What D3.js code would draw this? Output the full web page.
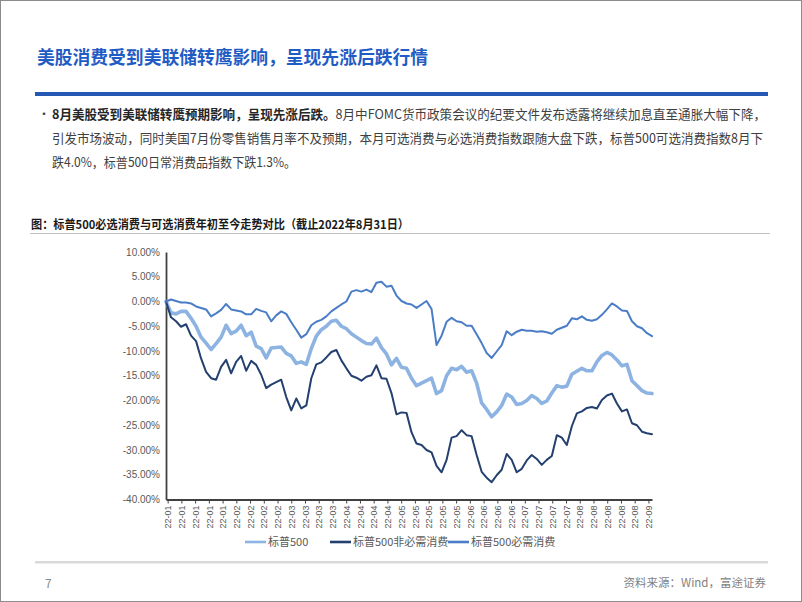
<!DOCTYPE html>
<html><head><meta charset="utf-8">
<script src="https://cdn.jsdelivr.net/npm/d3@7"></script>
<style>
html,body{margin:0;padding:0;background:#fff;}
svg{display:block;}
</style></head>
<body>
<div id="chart"></div>
<script>
// ---------------- data ----------------
const tickLabels = ["22-01","22-01","22-01","22-01","22-01","22-02","22-02","22-02","22-02","22-03","22-03","22-03","22-03","22-04","22-04","22-04","22-04","22-05","22-05","22-05","22-05","22-05","22-06","22-06","22-06","22-06","22-07","22-07","22-07","22-07","22-08","22-08","22-08","22-08","22-08","22-09"];
const yTicks = [10,5,0,-5,-10,-15,-20,-25,-30,-35,-40];
const seriesNames = ["标普500","标普500非必需消费","标普500必需消费"];

const sp500 = [0,-2.3,-2.5,-2.0,-2.0,-3.4,-5.0,-7.2,-8.4,-9.7,-8.5,-7.2,-4.8,-6.5,-6.0,-4.8,-6.9,-6.2,-9.0,-9.5,
 -11.4,-9.4,-9.3,-9.2,-10.5,-11.0,-12.5,-12.2,-12.7,-9.5,-7.0,-5.7,-5.0,-4.0,-3.8,-5.0,-5.5,-6.5,-7.2,-7.9,
 -8.5,-8.6,-7.4,-9.3,-10.6,-12.8,-11.5,-13.3,-13.5,-15.5,-17.0,-16.5,-16.0,-15.5,-18.6,-18.0,-15.0,-13.5,-13.8,-13.1,
 -14.3,-14.0,-16.5,-20.5,-21.8,-23.3,-22.3,-21.0,-18.7,-19.3,-20.8,-20.6,-20.0,-19.0,-19.6,-20.6,-20.1,-18.5,-17.0,-17.3,
 -17.1,-14.7,-14.1,-13.5,-14.0,-14.0,-12.2,-10.9,-10.3,-10.8,-11.8,-13.0,-12.7,-16.0,-17.0,-18.0,-18.5,-18.6];

const discretionary = [0,-3.2,-4.0,-5.1,-4.6,-6.9,-8.0,-11.5,-14.2,-15.5,-15.8,-13.2,-11.8,-14.5,-12.2,-11.0,-14.0,-12.0,-12.8,-14.8,
 -17.5,-16.8,-16.3,-15.8,-19.3,-22.0,-19.6,-21.6,-21.0,-15.5,-12.7,-12.3,-11.3,-10.2,-9.8,-11.9,-13.5,-15.0,-15.4,-16.0,
 -15.2,-14.9,-12.9,-15.5,-15.6,-18.5,-22.8,-22.4,-22.5,-26.4,-28.7,-29.0,-30.0,-30.5,-33.2,-34.5,-32.0,-27.5,-27.2,-26.0,
 -27.0,-27.2,-31.0,-34.4,-35.6,-36.5,-35.1,-34.0,-30.8,-32.0,-34.5,-33.8,-32.1,-31.0,-31.8,-33.0,-32.0,-31.2,-27.0,-27.5,
 -29.0,-25.2,-22.6,-22.2,-21.5,-21.3,-21.6,-19.9,-19.0,-18.6,-20.6,-22.2,-21.8,-24.6,-25.0,-26.3,-26.6,-26.8];

const staples = [0,0.4,0.1,-0.2,-0.2,-0.4,-1.0,-1.3,-1.6,-3.0,-2.4,-1.7,-0.5,-1.6,-1.8,-2.0,-2.6,-2.6,-1.5,-1.9,
 -2.2,-4.0,-2.8,-2.0,-2.5,-4.2,-5.7,-7.3,-6.6,-4.8,-4.1,-3.7,-3.0,-2.0,-1.3,-0.6,0.0,2.0,2.3,2.0,
 2.4,1.9,3.8,4.0,3.0,3.2,1.2,0.1,-0.4,-0.6,-1.3,-0.6,0.1,-1.5,-8.8,-6.9,-4.1,-3.3,-4.0,-4.2,
 -4.9,-4.9,-6.6,-8.4,-10.4,-11.4,-10.1,-8.8,-6.0,-6.8,-6.1,-5.7,-5.9,-5.9,-6.1,-6.0,-6.2,-6.5,-5.7,-5.3,
 -4.9,-3.4,-3.6,-3.0,-3.7,-3.9,-3.6,-2.7,-1.6,-0.4,-1.0,-1.8,-1.9,-4.0,-5.0,-5.4,-6.4,-7.0];

// ---------------- drawing ----------------
const W = 802, H = 602;
const svg = d3.select("#chart").append("svg").attr("width", W).attr("height", H);
const cjk = "'Noto Sans CJK SC','Noto Sans',sans-serif";
const latin = "'Liberation Sans',Arial,sans-serif";

// page frame
svg.append("rect").attr("x",0.5).attr("y",0.5).attr("width",W-1).attr("height",H-1)
  .attr("fill","#fff").attr("stroke","#8c8c8c").attr("stroke-width",1);

// title
svg.append("text").attr("x",37).attr("y",64)
  .attr("font-family",cjk).attr("font-weight","bold").attr("font-size",18)
  .attr("textLength",391).attr("lengthAdjust","spacingAndGlyphs")
  .attr("fill","#1F5CC4").text("美股消费受到美联储转鹰影响，呈现先涨后跌行情");

// blue rule
svg.append("rect").attr("x",35).attr("y",92).attr("width",733).attr("height",4).attr("fill","#2458B3");

// bullet text
svg.append("text").attr("x",38).attr("y",119).attr("font-family",cjk).attr("font-size",12).attr("fill","#404040").text("•");
const t1 = svg.append("text").attr("x",52).attr("y",119).attr("font-family",cjk).attr("font-size",13).attr("fill","#404040")
  .attr("textLength",714).attr("lengthAdjust","spacingAndGlyphs");
t1.append("tspan").attr("font-weight","bold").attr("fill","#262626").text("8月美股受到美联储转鹰预期影响，呈现先涨后跌。");
t1.append("tspan").text("8月中FOMC货币政策会议的纪要文件发布透露将继续加息直至通胀大幅下降，");
svg.append("text").attr("x",52).attr("y",143).attr("font-family",cjk).attr("font-size",13).attr("fill","#404040")
  .attr("textLength",711).attr("lengthAdjust","spacingAndGlyphs")
  .text("引发市场波动，同时美国7月份零售销售月率不及预期，本月可选消费与必选消费指数跟随大盘下跌，标普500可选消费指数8月下");
svg.append("text").attr("x",52).attr("y",167).attr("font-family",cjk).attr("font-size",13).attr("fill","#404040")
  .attr("textLength",244).attr("lengthAdjust","spacingAndGlyphs")
  .text("跌4.0%，标普500日常消费品指数下跌1.3%。");

// caption
svg.append("text").attr("x",31).attr("y",229).attr("font-family",cjk).attr("font-weight","bold").attr("font-size",12)
  .attr("textLength",378).attr("lengthAdjust","spacingAndGlyphs")
  .attr("fill","#1a1a1a").text("图：标普500必选消费与可选消费年初至今走势对比（截止2022年8月31日）");
svg.append("line").attr("x1",30).attr("x2",770).attr("y1",233.5).attr("y2",233.5).attr("stroke","#bfbfbf").attr("stroke-width",1);

// scales
const x = d3.scaleLinear().domain([-0.12, 35.26]).range([166, 652]);
const y = d3.scaleLinear().domain([-40, 10]).range([499.5, 252]);
const N = sp500.length;
const idx = d3.scaleLinear().domain([0, N-1]).range([-0.12, 35.26]);

// y axis labels
const yAxis = d3.axisLeft(y).tickValues(yTicks).tickSize(0).tickPadding(6)
  .tickFormat(d => d.toFixed(2) + "%");
const gy = svg.append("g").attr("transform","translate(166,0)").call(yAxis);
gy.select(".domain").attr("stroke","#404040").attr("stroke-width",1.8);
gy.selectAll("text").attr("font-family",latin).attr("font-size",10).attr("fill","#595959");

// x axis
const xAxis = d3.axisBottom(x).tickValues(d3.range(tickLabels.length)).tickSize(4).tickSizeOuter(0)
  .tickFormat(i => tickLabels[i]);
const gx = svg.append("g").attr("transform","translate(0,499.5)").call(xAxis);
gx.select(".domain").attr("stroke","#404040").attr("stroke-width",1.8);
gx.selectAll(".tick line").attr("stroke","#404040").attr("stroke-width",1);
gx.selectAll("text").attr("font-family",latin).attr("font-size",9).attr("fill","#595959")
  .attr("transform","rotate(-90)").attr("text-anchor","end").attr("x",-6).attr("y",0).attr("dy","0.35em");

// lines
const line = d3.line().x((d,i) => x(idx(i))).y(d => y(d)).curve(d3.curveLinear);
const series = [
  {name: seriesNames[0], values: sp500, color: "#8DB3E2", width: 3.6},
  {name: seriesNames[1], values: discretionary, color: "#23406F", width: 2},
  {name: seriesNames[2], values: staples, color: "#4A7DC6", width: 2}
];
svg.append("g").selectAll("path").data(series).join("path")
  .attr("d", d => line(d.values)).attr("fill","none")
  .attr("stroke", d => d.color).attr("stroke-width", d => d.width)
  .attr("stroke-linejoin","round").attr("stroke-linecap","round");

// legend
const legendPos = [245, 330, 448];
const lg = svg.append("g").selectAll("g").data(series).join("g")
  .attr("transform",(d,i) => `translate(${legendPos[i]},542)`);
lg.append("line").attr("x1",0).attr("x2",21).attr("y1",0).attr("y2",0)
  .attr("stroke", d => d.color).attr("stroke-width", 2.6);
lg.append("text").attr("x",23).attr("y",0).attr("dy","0.35em")
  .attr("font-family",cjk).attr("font-size",11).attr("fill","#595959").text(d => d.name);

// footer
svg.append("rect").attr("x",35).attr("y",561).attr("width",733).attr("height",2.5).attr("fill","#d9d9d9");
svg.append("text").attr("x",45).attr("y",588).attr("font-family",cjk).attr("font-size",12).attr("fill","#8c8c8c").text("7");
svg.append("text").attr("x",766).attr("y",587).attr("text-anchor","end").attr("font-family",cjk).attr("font-size",11.5)
  .attr("fill","#7f7f7f").text("资料来源：Wind，富途证券");
</script>
</body></html>
